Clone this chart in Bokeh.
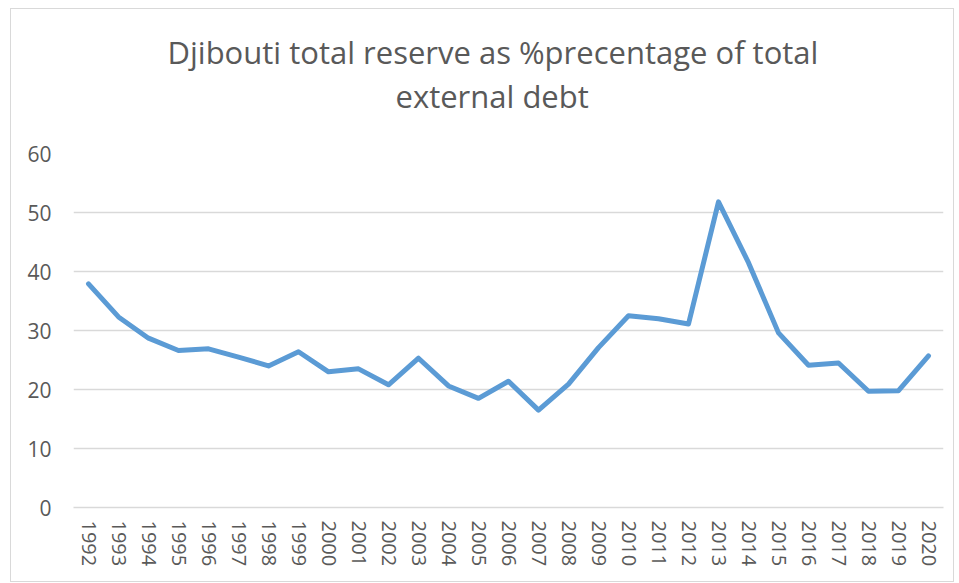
from bokeh.plotting import figure
from bokeh.models import ColumnDataSource, FactorRange, Range1d, SingleIntervalTicker, Title
from bokeh.embed import file_html
from bokeh.resources import INLINE

years = [str(y) for y in range(1992, 2021)]
reserve_pct = [37.9, 32.3, 28.7, 26.6, 26.9, 25.5, 24.0, 26.4, 23.0, 23.5,
               20.8, 25.3, 20.6, 18.5, 21.4, 16.5, 20.9, 27.1, 32.5, 32.0,
               31.1, 51.8, 41.5, 29.6, 24.1, 24.5, 19.7, 19.8, 25.7]
title_line1 = "Djibouti total reserve as %precentage of total"
title_line2 = "external debt"

src = ColumnDataSource(data=dict(year=years, val=reserve_pct))

p = figure(width=944, height=574, x_range=FactorRange(*years), y_range=Range1d(0, 60),
           output_backend="svg", toolbar_location=None, title=None,
           min_border_left=62, min_border_right=12, min_border_top=144, min_border_bottom=76)
p.margin = (8, 0, 0, 10)
p.styles = {"border": "1px solid #d9d9d9"}
p.outline_line_color = None
p.background_fill_color = "white"
p.border_fill_color = "white"

p.line(x="year", y="val", source=src, line_color="#5b9bd5", line_width=5,
       line_join="round", line_cap="round")

# title: two lines stacked above the plot (nearest to the plot first)
common = dict(align="left", text_font="Open Sans", text_font_size="31px",
              text_font_style="normal", text_color="#595959", standoff=0)
p.add_layout(Title(text=" ", text_font_size="1px", standoff=34), "above")
p.add_layout(Title(text=title_line2, offset=322, **common), "above")
p.add_layout(Title(text=title_line1, offset=94, **common), "above")

# axes
p.yaxis.ticker = SingleIntervalTicker(interval=10)
p.yaxis.axis_line_color = None
p.yaxis.major_tick_line_color = None
p.yaxis.minor_tick_line_color = None
p.yaxis.major_label_standoff = 16
p.yaxis.major_label_text_font = "Open Sans"
p.yaxis.major_label_text_font_size = "21px"
p.yaxis.major_label_text_color = "#595959"

p.xaxis.axis_line_color = "#d9d9d9"
p.xaxis.axis_line_width = 1.5
p.xaxis.major_tick_line_color = None
p.xaxis.minor_tick_line_color = None
p.xaxis.major_label_orientation = "vertical"
p.xaxis.major_label_standoff = 7
p.xaxis.major_label_text_font = "Open Sans"
p.xaxis.major_label_text_font_size = "20px"
p.xaxis.major_label_text_color = "#595959"

p.xgrid.grid_line_color = None
p.ygrid.grid_line_color = "#d9d9d9"
p.ygrid.grid_line_width = 1.5

open("out.html", "w").write(file_html(p, INLINE))
